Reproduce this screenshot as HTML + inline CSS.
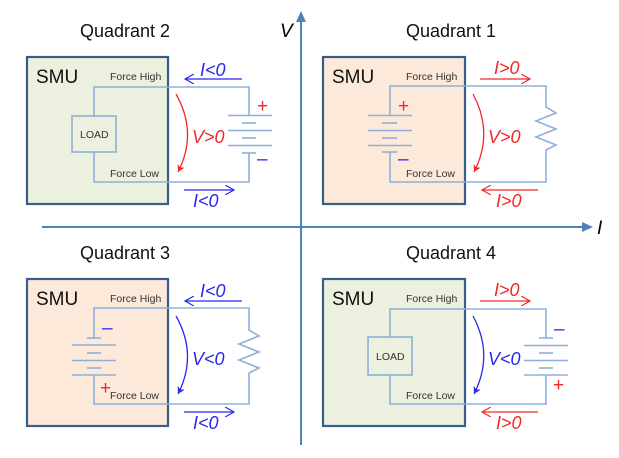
<!DOCTYPE html>
<html><head><meta charset="utf-8"><style>
html,body{margin:0;padding:0;background:#fff}
svg{display:block}
text{font-family:"Liberation Sans",sans-serif}
.t{font-size:18px;fill:#111}
.smu{font-size:19px;fill:#111}
.f{font-size:10.5px;fill:#333}
.w{stroke:#8eb0d8;stroke-width:1.6;fill:none}
.b{stroke:#385d8a;stroke-width:2.2}
.r{fill:#f02828;font-style:italic;font-size:18px}
.bl{fill:#2828f0;font-style:italic;font-size:18px}
</style></head><body>
<svg width="619" height="458" viewBox="0 0 619 458">
<defs>
<marker id="ar" markerWidth="8" markerHeight="8" refX="7" refY="4" orient="auto" markerUnits="userSpaceOnUse"><path d="M0,0 L7,4 L0,8 L2,4Z" fill="#f02828"/></marker>
<marker id="ab" markerWidth="8" markerHeight="8" refX="7" refY="4" orient="auto" markerUnits="userSpaceOnUse"><path d="M0,0 L7,4 L0,8 L2,4Z" fill="#2828f0"/></marker>
<marker id="or" markerWidth="10" markerHeight="10" refX="9" refY="5" orient="auto" markerUnits="userSpaceOnUse"><path d="M0,0 L9,5 L0,10" fill="none" stroke="#f02828" stroke-width="1.2"/></marker>
<marker id="ob" markerWidth="10" markerHeight="10" refX="9" refY="5" orient="auto" markerUnits="userSpaceOnUse"><path d="M0,0 L9,5 L0,10" fill="none" stroke="#2828f0" stroke-width="1.2"/></marker>
</defs>
<line x1="301" y1="445" x2="301" y2="14" stroke="#4f81bd" stroke-width="2"/>
<path d="M296,22 L301,11 L306,22Z" fill="#4f81bd"/>
<line x1="42" y1="227" x2="590" y2="227" stroke="#4f81bd" stroke-width="2"/>
<path d="M582,222 L593,227 L582,232Z" fill="#4f81bd"/>
<text x="280" y="37" style="font-size:19px;font-style:italic">V</text>
<text x="597" y="234" style="font-size:19px;font-style:italic">I</text>

<g>
<text class="t" x="80" y="37">Quadrant 2</text>
<rect x="27" y="57" width="141" height="147" fill="#ebf1de" class="b" stroke="#385d8a"/>
<text class="smu" x="36" y="83">SMU</text>
<text class="f" x="110" y="80">Force High</text>
<text class="f" x="110" y="177">Force Low</text>
<path class="w" d="M94,116 V87 H249 V115 M94,152 V182 H249 V153"/>
<rect x="72" y="116" width="44" height="36" class="w"/>
<text x="80" y="138" style="font-size:10.5px;fill:#333">LOAD</text>
<g class="w"><line x1="228" y1="115.5" x2="272" y2="115.5"/><line x1="242" y1="123" x2="256" y2="123"/><line x1="228" y1="130.5" x2="272" y2="130.5"/><line x1="242" y1="138" x2="256" y2="138"/><line x1="228" y1="145.5" x2="272" y2="145.5"/><line x1="242" y1="153" x2="256" y2="153"/></g>
<text x="257" y="112" style="fill:#f02828;font-size:19px">+</text>
<text x="257" y="165" style="fill:#2828f0;font-size:19px">–</text>
<line x1="242" y1="79" x2="185" y2="79" stroke="#2828f0" stroke-width="1.3" marker-end="url(#ob)"/>
<text class="bl" x="200" y="76">I&lt;0</text>
<line x1="184" y1="190" x2="234" y2="190" stroke="#2828f0" stroke-width="1.3" marker-end="url(#ob)"/>
<text class="bl" x="193" y="207">I&lt;0</text>
<path d="M176,94 Q198,133 178,172" fill="none" stroke="#f02828" stroke-width="1.3" marker-end="url(#ar)"/>
<text class="r" x="192" y="143">V&gt;0</text>
</g>

<g>
<text class="t" x="406" y="37">Quadrant 1</text>
<rect x="323" y="57" width="142" height="147" fill="#fde9d9" class="b" stroke="#385d8a"/>
<text class="smu" x="332" y="83">SMU</text>
<text class="f" x="406" y="80">Force High</text>
<text class="f" x="406" y="177">Force Low</text>
<path class="w" d="M390,115 V86 H546 V107 l10,6 -20,8 20,8 -20,8 20,8 -10,5 V182 H390 V152"/>
<g class="w"><line x1="368" y1="115.5" x2="412" y2="115.5"/><line x1="382" y1="123" x2="397" y2="123"/><line x1="368" y1="130.5" x2="412" y2="130.5"/><line x1="382" y1="138" x2="397" y2="138"/><line x1="368" y1="145.5" x2="412" y2="145.5"/><line x1="382" y1="152" x2="397" y2="152"/></g>
<text x="398" y="112" style="fill:#f02828;font-size:19px">+</text>
<text x="398" y="165" style="fill:#2828f0;font-size:19px">–</text>
<line x1="480" y1="79" x2="530" y2="79" stroke="#f02828" stroke-width="1.3" marker-end="url(#or)"/>
<text class="r" x="494" y="74">I&gt;0</text>
<line x1="538" y1="190" x2="482" y2="190" stroke="#f02828" stroke-width="1.3" marker-end="url(#or)"/>
<text class="r" x="496" y="207">I&gt;0</text>
<path d="M473,94 Q494,133 474,172" fill="none" stroke="#f02828" stroke-width="1.3" marker-end="url(#ar)"/>
<text class="r" x="488" y="143">V&gt;0</text>
</g>

<g>
<text class="t" x="80" y="259">Quadrant 3</text>
<rect x="27" y="279" width="141" height="147" fill="#fde9d9" class="b" stroke="#385d8a"/>
<text class="smu" x="36" y="305">SMU</text>
<text class="f" x="110" y="302">Force High</text>
<text class="f" x="110" y="399">Force Low</text>
<path class="w" d="M94,338 V308 H249 V330 l10,6 -20,8 20,8 -20,8 20,8 -10,5 V404 H94 V375"/>
<g class="w"><line x1="87" y1="338" x2="101" y2="338"/><line x1="72" y1="345" x2="116" y2="345"/><line x1="87" y1="353" x2="101" y2="353"/><line x1="72" y1="360.5" x2="116" y2="360.5"/><line x1="87" y1="368" x2="101" y2="368"/><line x1="72" y1="375" x2="116" y2="375"/></g>
<text x="102" y="334" style="fill:#2828f0;font-size:19px">–</text>
<text x="100" y="394" style="fill:#f02828;font-size:19px">+</text>
<line x1="242" y1="301" x2="185" y2="301" stroke="#2828f0" stroke-width="1.3" marker-end="url(#ob)"/>
<text class="bl" x="200" y="297">I&lt;0</text>
<line x1="184" y1="412" x2="234" y2="412" stroke="#2828f0" stroke-width="1.3" marker-end="url(#ob)"/>
<text class="bl" x="193" y="429">I&lt;0</text>
<path d="M176,316 Q198,355 178,394" fill="none" stroke="#2828f0" stroke-width="1.3" marker-end="url(#ab)"/>
<text class="bl" x="192" y="365">V&lt;0</text>
</g>

<g>
<text class="t" x="406" y="259">Quadrant 4</text>
<rect x="323" y="279" width="142" height="147" fill="#ebf1de" class="b" stroke="#385d8a"/>
<text class="smu" x="332" y="305">SMU</text>
<text class="f" x="406" y="302">Force High</text>
<text class="f" x="406" y="399">Force Low</text>
<path class="w" d="M390,337 V309 H546 V338 M390,375 V404 H546 V375"/>
<rect x="368" y="337" width="44" height="38" class="w"/>
<text x="376" y="360" style="font-size:10.5px;fill:#333">LOAD</text>
<g class="w"><line x1="539" y1="338" x2="553" y2="338"/><line x1="524" y1="345.5" x2="568" y2="345.5"/><line x1="539" y1="353" x2="553" y2="353"/><line x1="524" y1="360.5" x2="568" y2="360.5"/><line x1="539" y1="368" x2="553" y2="368"/><line x1="524" y1="375" x2="568" y2="375"/></g>
<text x="554" y="335" style="fill:#2828f0;font-size:19px">–</text>
<text x="553" y="391" style="fill:#f02828;font-size:19px">+</text>
<line x1="480" y1="301" x2="530" y2="301" stroke="#f02828" stroke-width="1.3" marker-end="url(#or)"/>
<text class="r" x="494" y="296">I&gt;0</text>
<line x1="538" y1="412" x2="482" y2="412" stroke="#f02828" stroke-width="1.3" marker-end="url(#or)"/>
<text class="r" x="496" y="429">I&gt;0</text>
<path d="M473,316 Q494,355 474,394" fill="none" stroke="#2828f0" stroke-width="1.3" marker-end="url(#ab)"/>
<text class="bl" x="488" y="365">V&lt;0</text>
</g>
</svg>
</body></html>
